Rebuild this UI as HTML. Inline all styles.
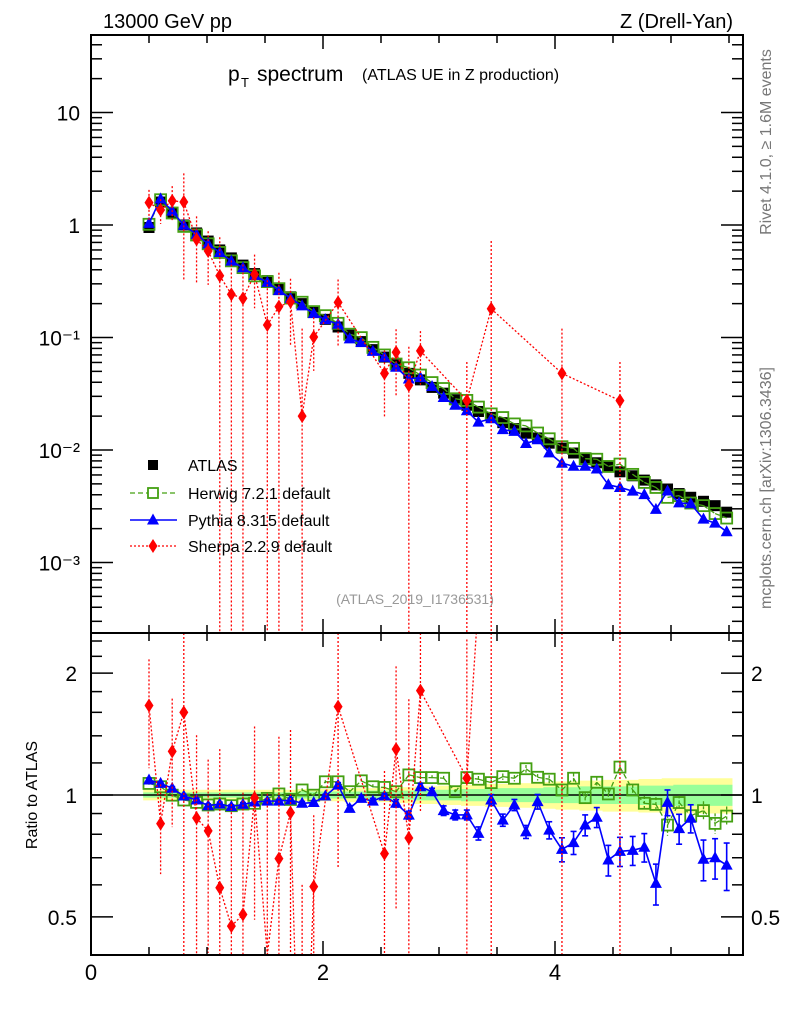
<!DOCTYPE html>
<html><head><meta charset="utf-8">
<style>
html,body{margin:0;padding:0;background:#fff;width:786px;height:1024px;overflow:hidden;}
svg{display:block;font-family:"Liberation Sans",sans-serif;}
</style></head>
<body>
<svg id="chart" width="786" height="1024" viewBox="0 0 786 1024">
  <g id="bands"></g>
  <g id="marks"></g>
  <g id="axes"></g>
  <text x="103" y="28" font-size="20">13000 GeV pp</text>
  <text x="733" y="28" font-size="20" text-anchor="end">Z (Drell-Yan)</text>
  <g>
    <text x="228" y="81" font-size="21">p</text>
    <text x="241" y="87" font-size="13">T</text>
    <text x="257" y="81" font-size="21">spectrum</text>
    <text x="362" y="80" font-size="16">(ATLAS UE in Z production)</text>
  </g>
  <text x="415" y="604" font-size="14" fill="#999" text-anchor="middle">(ATLAS_2019_I1736531)</text>
  <text transform="translate(771,142) rotate(-90)" font-size="16" fill="#777" text-anchor="middle">Rivet 4.1.0, ≥ 1.6M events</text>
  <text transform="translate(771,488) rotate(-90)" font-size="16" fill="#777" text-anchor="middle">mcplots.cern.ch [arXiv:1306.3436]</text>
  <text transform="translate(37,795) rotate(-90)" font-size="16" text-anchor="middle">Ratio to ATLAS</text>
  <g id="legend"></g>
</svg>
<script>
const xVals = [0.50,0.60,0.70,0.80,0.91,1.01,1.11,1.21,1.31,1.41,1.52,1.62,1.72,1.82,1.92,2.02,2.13,2.23,2.33,2.43,2.53,2.63,2.74,2.84,2.94,3.04,3.14,3.24,3.34,3.45,3.55,3.65,3.75,3.85,3.95,4.06,4.16,4.26,4.36,4.46,4.56,4.67,4.77,4.87,4.97,5.07,5.17,5.28,5.38,5.48];
const atlasVals = [0.95,1.6,1.28,1.0,0.85,0.72,0.6,0.51,0.44,0.37,0.32,0.27,0.23,0.2,0.17,0.145,0.124,0.105,0.092,0.078,0.067,0.057,0.048,0.042,0.036,0.032,0.028,0.025,0.022,0.0195,0.0175,0.0155,0.0141,0.0128,0.0115,0.0104,0.0094,0.0085,0.0077,0.0071,0.0064,0.0059,0.0054,0.0049,0.0045,0.0041,0.0038,0.0035,0.0032,0.0028];
const herwigRatio = [1.068,1.048,0.999,0.972,0.959,0.945,0.95,0.941,0.95,0.954,0.981,1.006,0.975,1.029,0.999,1.078,1.078,1.019,1.084,1.048,1.044,1.019,1.121,1.104,1.104,1.10,1.019,1.104,1.094,1.073,1.11,1.10,1.161,1.106,1.094,1.029,1.10,0.985,1.075,1.006,1.172,1.029,0.954,0.948,0.843,0.958,0.889,0.915,0.851,0.887];
const pythiaRatio = [1.089,1.068,1.039,0.994,0.972,0.941,0.95,0.936,0.948,0.961,0.966,0.966,0.972,0.954,0.958,0.994,1.058,0.927,0.981,0.966,0.994,0.954,0.892,1.048,1.019,0.915,0.893,0.893,0.804,0.972,0.867,0.945,0.811,0.963,0.819,0.734,0.763,0.843,0.881,0.691,0.726,0.73,0.743,0.605,0.959,0.826,0.876,0.694,0.70,0.671];
const sherpaVals = [1.58,1.36,1.64,1.6,0.746,0.587,0.354,0.242,0.223,0.364,0.129,0.188,0.208,0.02,0.101,null,0.205,null,null,null,0.048,0.074,0.0376,0.076,null,null,null,0.0275,null,0.18,null,null,null,null,null,0.048,null,null,null,null,0.0275,null,null,null,null,null,null,null,null,null];
const sherpaErr = [0.3,0.25,0.35,0.8,0.6,0.5,1.2,1.0,1.0,0.5,1.5,1.0,0.6,5,0.5,null,0.6,null,null,null,0.6,0.6,1.2,0.5,null,null,null,1.2,null,3,null,null,null,null,null,1.5,null,null,null,null,1.2,null,null,null,null,null,null,null,null,null];
const herwigErr = [0.01,0.01,0.01,0.01,0.01,0.01,0.01,0.01,0.01,0.01,0.01,0.01,0.01,0.01,0.01,0.01,0.01,0.01,0.015,0.015,0.015,0.015,0.015,0.015,0.015,0.015,0.015,0.02,0.02,0.02,0.02,0.02,0.025,0.02,0.025,0.025,0.03,0.03,0.03,0.03,0.03,0.03,0.04,0.04,0.05,0.04,0.05,0.05,0.05,0.05];
const pythiaErr = [0.01,0.01,0.01,0.01,0.01,0.01,0.01,0.01,0.01,0.01,0.01,0.01,0.01,0.01,0.01,0.01,0.015,0.015,0.015,0.015,0.015,0.02,0.02,0.02,0.02,0.025,0.025,0.025,0.03,0.03,0.03,0.03,0.03,0.04,0.04,0.05,0.05,0.05,0.05,0.06,0.06,0.06,0.06,0.07,0.07,0.07,0.07,0.08,0.08,0.09];
const bandYellow = [0.03,0.03,0.03,0.03,0.03,0.03,0.03,0.03,0.03,0.03,0.03,0.03,0.03,0.035,0.035,0.035,0.035,0.04,0.04,0.04,0.04,0.045,0.045,0.05,0.05,0.055,0.055,0.06,0.06,0.065,0.065,0.07,0.07,0.075,0.075,0.08,0.08,0.085,0.085,0.09,0.09,0.09,0.095,0.095,0.1,0.1,0.1,0.1,0.1,0.1];
const bandGreen = [0.015,0.015,0.015,0.015,0.015,0.015,0.015,0.015,0.015,0.015,0.015,0.015,0.015,0.02,0.02,0.02,0.02,0.02,0.02,0.025,0.025,0.025,0.025,0.03,0.03,0.03,0.03,0.035,0.035,0.035,0.04,0.04,0.04,0.04,0.045,0.045,0.045,0.05,0.05,0.05,0.05,0.05,0.055,0.055,0.055,0.06,0.06,0.06,0.06,0.06];
const mainYTicks = ["10","1","10⁻¹","10⁻²","10⁻³"];
const ratioYTicks = [2,1,0.5];
const xTicks = [0,2,4];

const NS="http://www.w3.org/2000/svg";
const L=91,R=743,MT=35,MB=633,RB=955;
const X=v=>L+116*v;
const Ym=v=>225-112.5*Math.log10(v);
const Yr=v=>795-405*Math.log10(v);
const clampM=y=>Math.max(MT,Math.min(MB,y));
const clampR=y=>Math.max(MB,Math.min(RB,y));
function el(tag,attrs,parent){const e=document.createElementNS(NS,tag);for(const k in attrs)e.setAttribute(k,attrs[k]);parent.appendChild(e);return e;}
const bands=document.getElementById('bands'),marks=document.getElementById('marks'),axes=document.getElementById('axes'),legend=document.getElementById('legend');

function bandPath(h){let top='',bot='';const n=xVals.length;
  for(let i=0;i<n;i++){const x0=X(xVals[i]-0.05),x1=X(xVals[i]+0.05);top+=(i?'L':'M')+x0+','+Yr(1+h[i])+'L'+x1+','+Yr(1+h[i]);}
  for(let i=n-1;i>=0;i--){const x0=X(xVals[i]-0.05),x1=X(xVals[i]+0.05);bot+='L'+x1+','+Yr(1-h[i])+'L'+x0+','+Yr(1-h[i]);}
  return top+bot+'Z';}
const by=el('path',{d:bandPath(bandYellow),fill:'#ffff99'},bands);


const bg=el('path',{d:bandPath(bandGreen),fill:'#99ff99'},bands);


const one=el('line',{x1:L,x2:R,y1:Yr(1),y2:Yr(1),stroke:'#000','stroke-width':1.5},bands);



const gM=el('g',{},marks),gR=el('g',{},marks);

function square(g,x,y,s,fill,stroke){return el('rect',{x:x-s/2,y:y-s/2,width:s,height:s,fill:fill,stroke:stroke||'none','stroke-width':1.8},g);}
function tri(g,x,y,fill){return el('path',{d:`M${x},${y-6.5}L${x+6},${y+4.5}L${x-6},${y+4.5}Z`,fill:fill},g);}
function diamond(g,x,y){return el('path',{d:`M${x},${y-7}L${x+4.5},${y}L${x},${y+7}L${x-4.5},${y}Z`,fill:'#ff0000'},g);}
// polyline clipped to y range [y0,y1]
function line(g,pts,color,dash,w,y0,y1){if(pts.length<2)return;
  if(y0===undefined){y0=-1e9;y1=1e9;}
  let d='';
  for(let k=0;k<pts.length-1;k++){
    let [ax,ay]=pts[k],[bx,by2]=pts[k+1];
    let t0=0,t1=1;const dy=by2-ay;
    if(dy===0){if(ay<y0||ay>y1)continue;}
    else{let ta=(y0-ay)/dy,tb=(y1-ay)/dy;if(ta>tb)[ta,tb]=[tb,ta];t0=Math.max(t0,ta);t1=Math.min(t1,tb);if(t0>=t1)continue;}
    const sx=ax+(bx-ax)*t0,sy=ay+dy*t0,ex=ax+(bx-ax)*t1,ey=ay+dy*t1;
    d+=`M${sx},${sy}L${ex},${ey}`;
  }
  if(!d)return;
  return el('path',{d:d,fill:'none',stroke:color,'stroke-width':w,'stroke-dasharray':dash||'none'},g);}

for(let i=0;i<xVals.length;i++){
  const s=square(gM,X(xVals[i]),Ym(atlasVals[i]),11,'#000');
  
  
}
const hw=xVals.map((x,i)=>[X(x),Ym(atlasVals[i]*herwigRatio[i])]);
const hwr=xVals.map((x,i)=>[X(x),Yr(herwigRatio[i])]);
line(gM,hw,'#44a012','5,3',1.3,MT,MB);line(gR,hwr,'#44a012','5,3',1.3,MB,RB);
for(let i=0;i<xVals.length;i++){
  const x=X(xVals[i]);
  el('line',{x1:x,x2:x,y1:clampR(Yr(herwigRatio[i]+herwigErr[i])),y2:clampR(Yr(herwigRatio[i]-herwigErr[i])),stroke:'#44a012','stroke-width':1.3,'stroke-dasharray':'3,2'},gR);
  const a=square(gM,x,hw[i][1],11,'none','#44a012');
  
  
  const b=square(gR,x,hwr[i][1],11,'none','#44a012');
  
  
}
const py=xVals.map((x,i)=>[X(x),Ym(atlasVals[i]*pythiaRatio[i])]);
const pyr=xVals.map((x,i)=>[X(x),Yr(pythiaRatio[i])]);
line(gM,py,'#0000ff','',1.6,MT,MB);line(gR,pyr,'#0000ff','',1.6,MB,RB);
for(let i=0;i<xVals.length;i++){
  const x=X(xVals[i]);
  const y1=clampR(Yr(pythiaRatio[i]+pythiaErr[i])),y2=clampR(Yr(pythiaRatio[i]-pythiaErr[i]));
  el('line',{x1:x,x2:x,y1:y1,y2:y2,stroke:'#0000ff','stroke-width':1.6},gR);
  el('line',{x1:x-3,x2:x+3,y1:y1,y2:y1,stroke:'#0000ff','stroke-width':1.6},gR);
  el('line',{x1:x-3,x2:x+3,y1:y2,y2:y2,stroke:'#0000ff','stroke-width':1.6},gR);
  const a=tri(gM,x,py[i][1],'#0000ff');
  
  
  const b=tri(gR,x,pyr[i][1],'#0000ff');
  
  
}
const sp=[],spr=[];
for(let i=0;i<xVals.length;i++){if(sherpaVals[i]==null)continue;
  sp.push([X(xVals[i]),Ym(sherpaVals[i])]);spr.push([X(xVals[i]),Yr(sherpaVals[i]/atlasVals[i])]);}
line(gM,sp,'#ff0000','2,2',1.3,MT,MB);line(gR,spr,'#ff0000','2,2',1.3,MB,RB);
for(let i=0;i<xVals.length;i++){if(sherpaVals[i]==null)continue;
  const x=X(xVals[i]),v=sherpaVals[i],e=sherpaErr[i],r=v/atlasVals[i];
  const lo=1-e;
  el('line',{x1:x,x2:x,y1:clampM(Ym(v*(1+e))),y2:lo>0?clampM(Ym(v*lo)):MB,stroke:'#ff0000','stroke-width':1.3,'stroke-dasharray':'2,2'},gM);
  el('line',{x1:x,x2:x,y1:clampR(Yr(r*(1+e))),y2:lo>0?clampR(Yr(r*lo)):RB,stroke:'#ff0000','stroke-width':1.3,'stroke-dasharray':'2,2'},gR);
  const a=diamond(gM,x,Ym(v));
  
  
  const yr=Yr(r);
  if(yr>=MB+7&&yr<=RB-7){
    const b=diamond(gR,x,yr);
    
    
  }
}

const f1=el('rect',{x:L,y:MT,width:R-L,height:MB-MT,fill:'none',stroke:'#000','stroke-width':2},axes);


const f2=el('rect',{x:L,y:MB,width:R-L,height:RB-MB,fill:'none',stroke:'#000','stroke-width':2},axes);


for(let v=0;v<=5.6;v+=0.5){const x=X(v);const major=Math.abs(v%2)<1e-6;const len=major?14:8;
  [MT,MB].forEach(y=>el('line',{x1:x,x2:x,y1:y,y2:y+len,stroke:'#000','stroke-width':1.5},axes));
  [MB,RB].forEach(y=>el('line',{x1:x,x2:x,y1:y,y2:y-len,stroke:'#000','stroke-width':1.5},axes));}
xTicks.forEach(v=>{const t=el('text',{x:X(v),y:980,'font-size':22,'text-anchor':'middle'},axes);t.textContent=v;
  
  });
for(let d=-4;d<=1;d++){for(let m=1;m<10;m++){const v=m*Math.pow(10,d);const y=Ym(v);if(y<MT||y>MB)continue;const len=m==1?22:11;
  el('line',{x1:L,x2:L+len,y1:y,y2:y,stroke:'#000','stroke-width':1.5},axes);el('line',{x1:R,x2:R-len,y1:y,y2:y,stroke:'#000','stroke-width':1.5},axes);}}
mainYTicks.forEach((s,k)=>{const y=Ym(Math.pow(10,1-k));const t=el('text',{x:80,y:y+8,'font-size':21,'text-anchor':'end'},axes);t.textContent=s;
  
  });
[0.4,0.5,0.6,0.7,0.8,0.9,1,1.2,1.4,1.6,1.8,2,2.2,2.4].forEach(v=>{const y=Yr(v);if(y<MB||y>RB)return;const len=(v==0.5||v==1||v==2)?22:11;
  el('line',{x1:L,x2:L+len,y1:y,y2:y,stroke:'#000','stroke-width':1.5},axes);el('line',{x1:R,x2:R-len,y1:y,y2:y,stroke:'#000','stroke-width':1.5},axes);});
ratioYTicks.forEach(v=>{const y=Yr(v)+8;
  const t=el('text',{x:77,y:y,'font-size':21,'text-anchor':'end'},axes);t.textContent=v;
  
  
  const t2=el('text',{x:751,y:y,'font-size':21},axes);t2.textContent=v;
  
  });

const legY=[465,493,520,546];
const names=['ATLAS','Herwig 7.2.1 default','Pythia 8.315 default','Sherpa 2.2.9 default'];
names.forEach((n,k)=>{const g=el('g',{},legend);
  
  
  const y=legY[k];
  if(k==0)square(g,153,y,10,'#000');
  if(k==1){line(g,[[130,y],[177,y]],'#44a012','5,3',1.3);square(g,153,y,10,'#fff','#44a012');}
  if(k==2){line(g,[[130,y],[177,y]],'#0000ff','',1.6);tri(g,153,y,'#0000ff');}
  if(k==3){line(g,[[130,y],[177,y]],'#ff0000','2,2',1.3);diamond(g,153,y);}
  const t=el('text',{x:188,y:y+6,'font-size':16},g);t.textContent=n;});
</script>
</body></html>
